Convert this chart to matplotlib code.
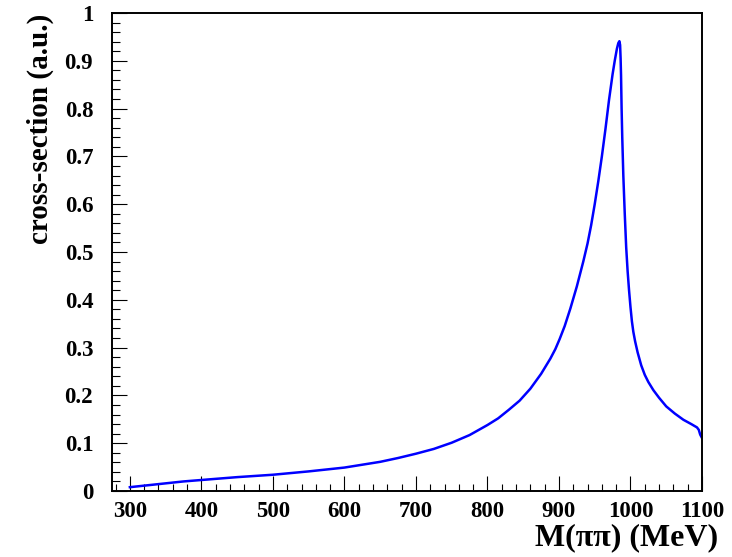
import numpy as np
import matplotlib
matplotlib.use("Agg")
import matplotlib.pyplot as plt
from matplotlib.ticker import MultipleLocator, FuncFormatter

# values
mass = [300, 325, 350, 375, 400, 450, 500, 550, 600, 650, 675, 700, 725,
        750, 775, 800, 815, 830, 845, 860, 875, 888, 895, 901, 908, 916,
        925, 934, 940, 945, 950, 955, 960, 965, 970, 975, 978, 981, 983,
        984.5, 985.5, 986.2, 986.8, 987.6, 988.5, 990, 992, 994, 996, 998,
        1000, 1002, 1004, 1006.5, 1010, 1015, 1020, 1025, 1032, 1040,
        1050, 1062, 1074, 1085, 1093, 1095.5, 1097.5, 1100]
xsec = [0.008, 0.012, 0.016, 0.020, 0.023, 0.029, 0.034, 0.041, 0.049,
        0.061, 0.069, 0.078, 0.088, 0.101, 0.117, 0.138, 0.152, 0.170,
        0.189, 0.214, 0.245, 0.277, 0.297, 0.318, 0.345, 0.382, 0.428,
        0.480, 0.518, 0.556, 0.600, 0.648, 0.700, 0.757, 0.818, 0.872,
        0.900, 0.925, 0.937, 0.941, 0.933, 0.905, 0.870, 0.800, 0.740,
        0.660, 0.580, 0.510, 0.460, 0.420, 0.385, 0.355, 0.333, 0.313,
        0.290, 0.263, 0.243, 0.228, 0.211, 0.195, 0.177, 0.162, 0.149,
        0.140, 0.133, 0.128, 0.118, 0.111]

font = "Liberation Serif"

fig = plt.figure(figsize=(7.32, 5.57), dpi=100)
ax = fig.add_axes([0.153, 0.1185, 0.806, 0.8582])

ax.plot(mass, xsec, color="#0000ff", lw=1.8, solid_joinstyle="round")

ax.set_xlim(275, 1100)
ax.set_ylim(0, 1)

ax.xaxis.set_major_locator(MultipleLocator(100))
ax.xaxis.set_minor_locator(MultipleLocator(20))
ax.yaxis.set_major_locator(MultipleLocator(0.1))
ax.yaxis.set_minor_locator(MultipleLocator(0.02))
ax.yaxis.set_major_formatter(FuncFormatter(lambda v, p: "%g" % round(v, 2)))

ax.tick_params(which="both", direction="in", top=False, right=False,
               width=0.8, color="black")
ax.tick_params(which="major", length=10.8)
ax.tick_params(which="minor", length=5.4)
ax.tick_params(axis="y", which="major", pad=13.5)
ax.tick_params(axis="x", which="major", pad=7)

for lab in ax.get_xticklabels() + ax.get_yticklabels():
    lab.set_fontfamily(font)
    lab.set_fontweight("bold")
    lab.set_fontsize(16.5)

for sp in ax.spines.values():
    sp.set_linewidth(1.4)

fig.text(0.981, 0.034, "M(\u03c0\u03c0) (MeV)", ha="right", va="center",
         fontfamily=font, fontweight="bold", fontsize=23)
fig.text(0.055, 0.976, "cross-section (a.u.)", ha="center", va="top",
         rotation=90, fontfamily=font, fontweight="bold", fontsize=21)

fig.savefig("out.png", dpi=100)
